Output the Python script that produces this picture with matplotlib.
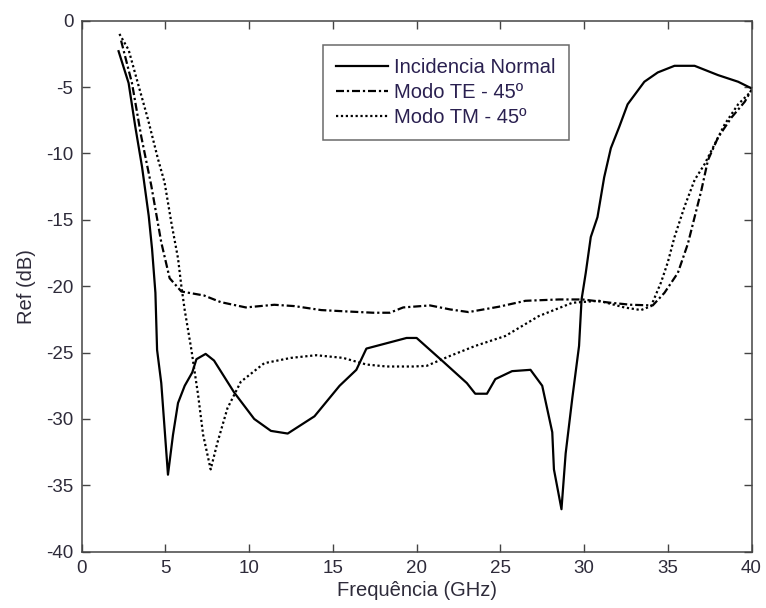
import matplotlib
matplotlib.use('Agg')
import matplotlib.pyplot as plt

# data
# Incidencia Normal
f_normal = [2.2, 2.8, 3.2, 3.6, 4.0, 4.2, 4.4, 4.5, 4.75, 5.15, 5.45, 5.75, 6.15, 6.6, 6.85,
            7.4, 7.9, 9.1, 10.3, 11.3, 12.3, 13.9, 15.4, 16.4, 17.0, 18.2, 19.4, 20.0,
            21.6, 23.0, 23.5, 24.2, 24.7, 25.7, 26.8, 27.5, 28.1, 28.2, 28.65, 28.9,
            29.3, 29.7, 29.85, 30.1, 30.4, 30.8, 31.2, 31.6, 32.1, 32.6, 33.6, 34.4,
            35.4, 36.6, 38.0, 39.2, 40.0]
r_normal = [-2.3, -4.7, -8.0, -11.0, -14.7, -17.2, -20.5, -24.8, -27.3, -34.2, -31.2, -28.8,
            -27.5, -26.5, -25.5, -25.1, -25.6, -28.0, -30.0, -30.9, -31.1, -29.8, -27.5,
            -26.3, -24.7, -24.3, -23.9, -23.9, -25.7, -27.3, -28.1, -28.1, -27.0, -26.4,
            -26.3, -27.5, -31.0, -33.8, -36.8, -32.6, -28.4, -24.5, -21.0, -19.0, -16.3,
            -14.8, -11.8, -9.6, -8.0, -6.3, -4.6, -3.9, -3.4, -3.4, -4.1, -4.6, -5.1]

# Modo TE - 45
f_te = [2.35, 3.0, 3.55, 4.15, 4.75, 5.25, 5.95, 7.3, 8.3, 9.8, 11.5, 12.7, 14.3, 15.8,
        17.4, 18.4, 19.2, 20.8, 22.0, 23.1, 24.9, 26.5, 28.5, 29.9, 31.6, 32.8, 34.1,
        34.8, 35.6, 36.2, 36.6, 37.0, 37.4, 38.0, 38.8, 39.6, 40.0]
r_te = [-1.5, -4.7, -8.7, -12.4, -16.7, -19.4, -20.4, -20.7, -21.2, -21.6, -21.4, -21.5,
        -21.8, -21.9, -22.0, -22.0, -21.6, -21.45, -21.75, -21.95, -21.55, -21.1, -21.0,
        -21.0, -21.25, -21.4, -21.45, -20.5, -19.0, -16.8, -14.8, -12.8, -10.5, -8.8,
        -7.3, -6.1, -5.2]

# Modo TM - 45
f_tm = [2.25, 2.8, 3.35, 3.95, 4.55, 4.95, 5.35, 5.75, 5.95, 6.15, 6.55, 6.95, 7.25,
        7.7, 8.1, 8.7, 9.5, 10.9, 12.5, 14.0, 15.6, 17.0, 18.2, 19.8, 20.6, 22.0, 23.5,
        25.3, 27.3, 29.3, 30.9, 32.4, 33.4, 34.0, 34.6, 35.0, 35.4, 36.0, 36.6, 37.2,
        37.8, 38.4, 39.2, 40.0]
r_tm = [-1.0, -2.2, -4.7, -7.4, -10.4, -12.2, -15.2, -17.9, -20.0, -21.8, -24.8, -28.2,
        -31.2, -33.8, -31.8, -29.2, -27.2, -25.8, -25.4, -25.2, -25.4, -25.9, -26.05,
        -26.05, -26.0, -25.25, -24.5, -23.75, -22.25, -21.25, -21.1, -21.6, -21.8, -21.5,
        -19.7, -18.2, -16.3, -14.0, -12.0, -10.8, -9.3, -7.8, -6.3, -5.3]

plt.rcParams['font.family'] = ['Liberation Sans', 'DejaVu Sans']
plt.rcParams['axes.unicode_minus'] = False

txt = '#2e2b3a'

fig = plt.figure(figsize=(7.66, 6.08), dpi=100)
ax = fig.add_axes([0.1067, 0.0926, 0.8744, 0.8734])

ax.plot(f_normal, r_normal, color='black', lw=1.6, ls='-', label='Incidencia Normal')
ax.plot(f_te, r_te, color='black', lw=1.6, ls=(0, (3.6, 1.3, 1, 1.3)), label='Modo TE - 45º')
ax.plot(f_tm, r_tm, color='black', lw=1.6, ls=(0, (1, 1.2)), label='Modo TM - 45º')

ax.set_xlim(0, 40)
ax.set_ylim(-40, 0)
ax.set_xticks(range(0, 41, 5))
ax.set_yticks(range(-40, 1, 5))
ax.tick_params(direction='in', top=True, right=True, labelsize=13.5, length=6, width=1.0,
               pad=6, colors='#444444', labelcolor=txt)
for s in ax.spines.values():
    s.set_color('#444444')
    s.set_linewidth(1.1)

ax.set_xlabel('Frequência (GHz)', fontsize=14.5, color=txt, labelpad=3)
ax.set_ylabel('Ref (dB)', fontsize=14.5, color=txt, labelpad=7)

leg = ax.legend(loc='upper left', bbox_to_anchor=(0.3595, 0.955), fontsize=14.5,
                frameon=True, fancybox=False, borderpad=0.65, labelspacing=0.3,
                handlelength=2.6, handletextpad=0.3, borderaxespad=0)
leg.get_frame().set_edgecolor('#444444')
leg.get_frame().set_linewidth(1.1)
for t in leg.get_texts():
    t.set_color('#2a2050')

fig.savefig('out.png', dpi=100)
